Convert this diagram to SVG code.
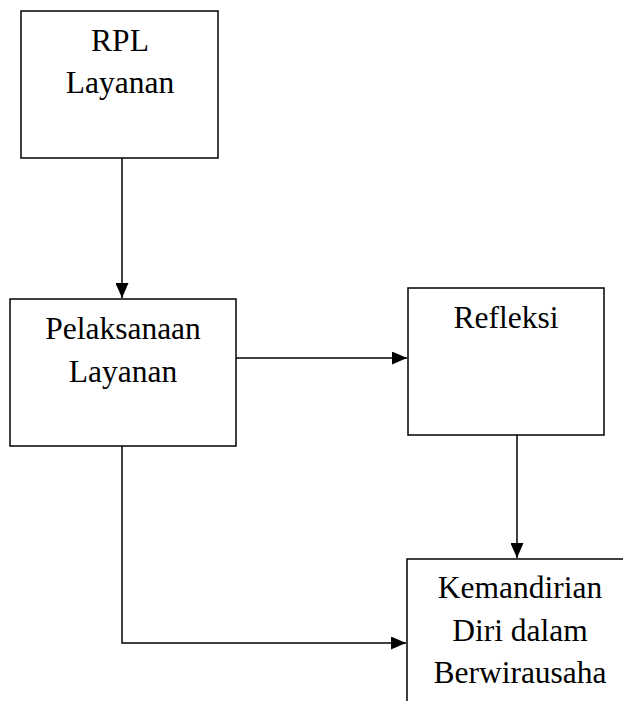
<svg xmlns="http://www.w3.org/2000/svg" width="623" height="701" viewBox="0 0 623 701">
<style>
.box{fill:#fff;stroke:#000;stroke-width:1.5}
.t{font-family:"Liberation Serif","Times New Roman",serif;font-size:31.5px;fill:#000;text-anchor:middle}
.c{fill:none;stroke:#000;stroke-width:1.5}
</style>
<defs>
<marker id="ah" markerWidth="15" markerHeight="13" refX="15" refY="6.5" orient="auto" markerUnits="userSpaceOnUse">
<path d="M0,0 L15,6.5 L0,13 Z" fill="#000"/>
</marker>
</defs>
<rect width="623" height="701" fill="#fff"/>
<g id="n1">
<rect class="box" x="21" y="11" width="197" height="147"/>
<text class="t" x="120" y="51">RPL</text>
<text class="t" x="120" y="93">Layanan</text>
</g>
<g id="n2">
<rect class="box" x="10" y="299" width="226" height="147"/>
<text class="t" x="123" y="339">Pelaksanaan</text>
<text class="t" x="123" y="382">Layanan</text>
</g>
<g id="n3">
<rect class="box" x="408" y="288" width="196" height="147"/>
<text class="t" x="506" y="328">Refleksi</text>
</g>
<g id="n4">
<rect class="box" x="407" y="559" width="230" height="160"/>
<text class="t" x="520" y="598">Kemandirian</text>
<text class="t" x="520" y="641">Diri dalam</text>
<text class="t" x="520" y="683">Berwirausaha</text>
</g>
<g id="connectors">
<path class="c" d="M122,158 V298" marker-end="url(#ah)"/>
<path class="c" d="M236,358 H407" marker-end="url(#ah)"/>
<path class="c" d="M517,435 V558" marker-end="url(#ah)"/>
<path class="c" d="M122,446 V643 H406" marker-end="url(#ah)"/>
</g>
</svg>
